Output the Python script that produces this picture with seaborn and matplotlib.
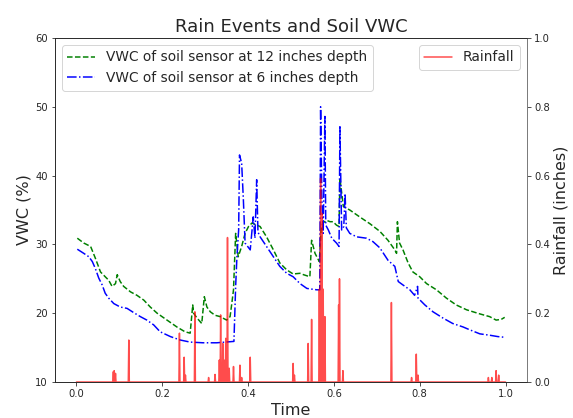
import numpy as np
import pandas as pd
import matplotlib
matplotlib.use("Agg")
import matplotlib.pyplot as plt
import seaborn as sns

# soil sensor at 12 inches (time as fraction of record, VWC %)
t_12in = [0.002, 0.017, 0.033, 0.044, 0.056, 0.067, 0.075, 0.083, 0.091, 0.095,
          0.102, 0.110, 0.126, 0.141, 0.157, 0.172, 0.188, 0.211, 0.234, 0.253,
          0.265, 0.271, 0.273, 0.281, 0.292, 0.298, 0.304, 0.312, 0.323, 0.335,
          0.350, 0.358, 0.362, 0.366, 0.371, 0.377, 0.385, 0.393, 0.401, 0.409,
          0.420, 0.428, 0.443, 0.459, 0.474, 0.490, 0.505, 0.521, 0.529, 0.544,
          0.548, 0.556, 0.566, 0.570, 0.574, 0.583, 0.591, 0.598, 0.606, 0.612,
          0.614, 0.622, 0.637, 0.660, 0.684, 0.707, 0.726, 0.742, 0.746, 0.748,
          0.753, 0.761, 0.773, 0.784, 0.800, 0.816, 0.839, 0.862, 0.885, 0.909,
          0.940, 0.963, 0.978, 0.990, 0.998]
vwc_12in = [30.9, 30.2, 29.7, 28.0, 26.0, 25.3, 24.8, 23.9, 24.3, 25.6,
            24.6, 23.9, 23.1, 22.6, 21.9, 20.9, 20.0, 19.0, 18.0, 17.3,
            17.1, 21.2, 20.0, 19.3, 18.5, 22.4, 20.9, 20.2, 19.7, 19.5,
            19.0, 19.5, 21.4, 23.4, 31.6, 28.2, 29.7, 31.6, 32.6, 33.1,
            32.8, 32.6, 31.1, 29.2, 27.3, 26.3, 25.7, 25.8, 25.6, 25.3,
            30.6, 28.7, 27.5, 32.1, 33.1, 33.5, 33.3, 33.3, 32.8, 32.6,
            39.6, 35.5, 35.0, 34.0, 33.0, 31.9, 30.6, 29.2, 28.7, 33.3,
            30.2, 29.2, 27.3, 26.0, 25.3, 24.3, 23.4, 22.2, 21.2, 20.5,
            19.9, 19.5, 19.0, 19.1, 19.4]

# soil sensor at 6 inches
t_6in = [0.002, 0.017, 0.029, 0.037, 0.044, 0.052, 0.060, 0.067, 0.075, 0.087,
         0.102, 0.118, 0.133, 0.149, 0.164, 0.180, 0.195, 0.219, 0.242, 0.265,
         0.295, 0.327, 0.367, 0.371, 0.374, 0.378, 0.380, 0.385, 0.389, 0.393,
         0.405, 0.412, 0.416, 0.420, 0.423, 0.428, 0.443, 0.459, 0.474, 0.490,
         0.505, 0.521, 0.537, 0.560, 0.567, 0.569, 0.572, 0.575, 0.579, 0.581,
         0.587, 0.595, 0.606, 0.612, 0.614, 0.618, 0.623, 0.626, 0.629, 0.637,
         0.653, 0.676, 0.691, 0.707, 0.726, 0.742, 0.750, 0.761, 0.777, 0.788,
         0.795, 0.796, 0.812, 0.831, 0.854, 0.877, 0.901, 0.916, 0.940, 0.963,
         0.982, 0.998]
vwc_6in = [29.3, 28.7, 28.2, 27.5, 26.5, 25.1, 24.1, 22.9, 22.2, 21.4,
           20.9, 20.7, 20.1, 19.5, 19.0, 18.3, 17.3, 16.6, 16.1, 15.8,
           15.7, 15.7, 15.9, 23.9, 28.2, 32.1, 43.0, 41.8, 36.5, 30.2,
           29.2, 34.0, 30.9, 39.4, 31.8, 31.1, 29.7, 28.2, 26.8, 25.8,
           25.3, 24.3, 23.6, 23.4, 23.4, 50.0, 36.5, 31.6, 48.6, 32.8,
           32.1, 30.9, 30.2, 29.7, 47.1, 32.1, 32.6, 37.4, 32.4, 31.6,
           31.1, 30.9, 30.4, 29.5, 27.7, 26.8, 24.6, 24.1, 23.4, 22.6,
           23.9, 22.2, 21.2, 20.2, 19.3, 18.5, 18.0, 17.6, 17.0, 16.8,
           16.6, 16.5]

# rain events (time, inches)
rain_t = [0.086, 0.088, 0.091, 0.122, 0.240, 0.251, 0.254, 0.276, 0.308, 0.323,
          0.333, 0.336, 0.341, 0.344, 0.348, 0.352, 0.356, 0.366, 0.381, 0.385,
          0.405, 0.505, 0.508, 0.540, 0.548, 0.566, 0.569, 0.572, 0.575, 0.579,
          0.611, 0.613, 0.621, 0.734, 0.781, 0.792, 0.796, 0.960, 0.968, 0.978,
          0.984]
rain_in = [0.030, 0.033, 0.025, 0.122, 0.142, 0.072, 0.020, 0.204, 0.013, 0.022,
           0.064, 0.195, 0.112, 0.064, 0.127, 0.420, 0.040, 0.045, 0.049, 0.013,
           0.072, 0.054, 0.020, 0.112, 0.182, 0.270, 0.592, 0.490, 0.270, 0.190,
           0.224, 0.300, 0.033, 0.231, 0.013, 0.081, 0.020, 0.013, 0.013, 0.033,
           0.020]

# rainfall series: zero between events
rt, rv = [0.0], [0.0]
for t, v in zip(rain_t, rain_in):
    rt += [t - 0.0012, t, t + 0.0012]
    rv += [0.0, v, 0.0]
rt.append(1.0)
rv.append(0.0)
rain_df = pd.DataFrame({'time': rt, 'rain': rv})
df12 = pd.DataFrame({'time': t_12in, 'vwc': vwc_12in})
df6 = pd.DataFrame({'time': t_6in, 'vwc': vwc_6in})

sns.set_style('ticks')
plt.rcParams['font.family'] = ['DejaVu Sans']

fig, ax1 = plt.subplots(figsize=(573 / 72, 418 / 72), dpi=72)
fig.subplots_adjust(left=55 / 573, right=527 / 573, top=1 - 38 / 418, bottom=1 - 382 / 418)

sns.lineplot(data=df12, x='time', y='vwc', ax=ax1, color='green', linestyle='--',
             linewidth=1.5, label='VWC of soil sensor at 12 inches depth')
sns.lineplot(data=df6, x='time', y='vwc', ax=ax1, color='blue', linestyle='-.',
             linewidth=1.5, label='VWC of soil sensor at 6 inches depth')
ax1.set_ylim(10, 60)
ax1.set_xlabel('Time', fontsize=16)
ax1.set_ylabel('VWC (%)', fontsize=16)
ax1.tick_params(labelsize=10)
ax1.legend(loc='upper left', fontsize=13.8)

ax2 = ax1.twinx()
sns.lineplot(data=rain_df, x='time', y='rain', ax=ax2, color='red', alpha=0.7,
             linewidth=1.5, label='Rainfall')
ax2.set_ylim(0, 1)
ax2.set_ylabel('Rainfall (inches)', fontsize=16)
ax2.tick_params(labelsize=10)
ax2.spines['right'].set_color('#888888')
ax2.legend(loc='upper right', fontsize=13.8)

ax1.set_title('Rain Events and Soil VWC', fontsize=18)

fig.savefig('out.png', dpi=72)
